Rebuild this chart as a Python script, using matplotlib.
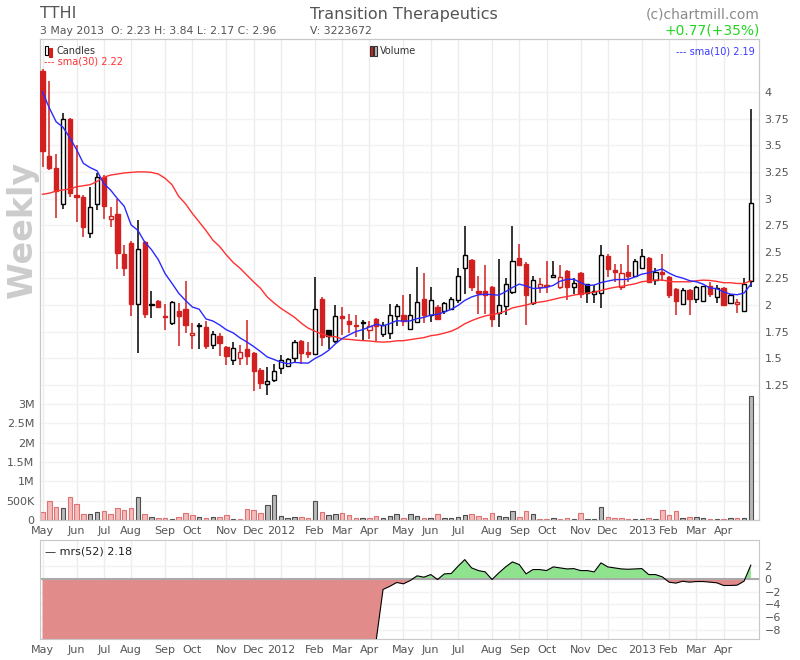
import numpy as np
import pandas as pd
import matplotlib
matplotlib.use('Agg')
import matplotlib.pyplot as plt
from matplotlib.patches import Rectangle

# ---------------- data (weekly, week starting Monday) ----------------
week_start = '2011-05-02'
opens = [4.20, 3.40, 3.29, 2.95, 3.75, 3.03, 3.01, 2.68, 2.95, 3.20,
         2.81, 2.85, 2.48, 2.58, 2.01, 2.59, 2.00, 2.04, 1.90, 1.83,
         1.94, 1.96, 1.72, 1.81, 1.79, 1.63, 1.71, 1.61, 1.48, 1.50,
         1.59, 1.55, 1.39, 1.26, 1.30, 1.41, 1.43, 1.50, 1.66, 1.56,
         1.54, 2.06, 1.77, 1.66, 1.90, 1.85, 1.81, 1.84, 1.77, 1.87,
         1.73, 1.74, 1.90, 1.91, 1.78, 1.84, 2.06, 1.91, 1.98, 1.94,
         1.96, 2.05, 2.35, 2.42, 2.13, 2.13, 2.17, 1.93, 1.99, 2.12,
         2.44, 2.39, 2.02, 2.17, 2.19, 2.26, 2.17, 2.32, 2.17, 2.30,
         2.20, 2.10, 2.11, 2.46, 2.33, 2.17, 2.31, 2.27, 2.35, 2.44,
         2.24, 2.31, 2.26, 2.15, 2.01, 2.14, 2.06, 2.04, 2.18, 2.08,
         2.16, 2.02, 2.01, 1.94, 2.23]
highs = [4.22, 4.10, 3.42, 3.80, 3.76, 3.50, 3.03, 3.11, 3.24, 3.22,
         2.92, 3.00, 2.56, 2.60, 2.80, 2.60, 2.13, 2.05, 2.01, 2.04,
         2.02, 2.23, 1.83, 1.83, 1.85, 1.76, 1.74, 1.62, 1.65, 1.63,
         1.86, 1.56, 1.41, 1.42, 1.45, 1.53, 1.50, 1.67, 1.67, 1.65,
         2.26, 2.08, 1.77, 2.00, 1.98, 1.92, 1.91, 1.86, 1.85, 1.88,
         1.84, 2.01, 2.01, 2.09, 2.10, 2.36, 2.30, 2.17, 2.00, 2.03,
         2.08, 2.35, 2.74, 2.43, 2.27, 2.38, 2.18, 2.43, 2.25, 2.74,
         2.57, 2.40, 2.27, 2.25, 2.41, 2.41, 2.38, 2.33, 2.25, 2.31,
         2.20, 2.19, 2.56, 2.48, 2.39, 2.39, 2.56, 2.43, 2.53, 2.45,
         2.35, 2.48, 2.27, 2.16, 2.16, 2.15, 2.18, 2.18, 2.22, 2.19,
         2.17, 2.10, 2.06, 2.25, 3.84]
lows = [3.30, 3.27, 2.82, 2.90, 3.01, 2.78, 2.64, 2.63, 2.89, 2.81,
        2.73, 2.34, 2.27, 1.90, 1.55, 1.88, 1.88, 1.97, 1.77, 1.81,
        1.62, 1.74, 1.59, 1.59, 1.59, 1.59, 1.52, 1.44, 1.44, 1.44,
        1.44, 1.19, 1.21, 1.16, 1.28, 1.35, 1.42, 1.47, 1.45, 1.50,
        1.53, 1.62, 1.59, 1.64, 1.72, 1.74, 1.70, 1.67, 1.68, 1.66,
        1.70, 1.68, 1.80, 1.80, 1.77, 1.83, 1.83, 1.84, 1.86, 1.92,
        1.95, 2.02, 2.10, 2.13, 1.92, 1.92, 1.79, 1.79, 1.91, 2.10,
        2.37, 1.81, 2.00, 2.11, 2.11, 2.25, 2.15, 2.05, 2.10, 2.07,
        2.02, 2.02, 1.97, 2.26, 2.22, 2.14, 2.22, 2.26, 2.34, 2.21,
        2.19, 2.23, 2.07, 1.91, 2.00, 1.91, 2.02, 2.03, 2.08, 2.02,
        2.00, 2.01, 1.93, 1.94, 2.17]
closes = [3.45, 3.29, 3.07, 3.75, 3.05, 3.01, 2.73, 2.92, 3.20, 2.93,
          2.84, 2.49, 2.35, 2.01, 2.53, 1.92, 2.01, 1.98, 1.89, 2.03,
          1.90, 1.81, 1.74, 1.80, 1.62, 1.73, 1.64, 1.52, 1.60, 1.56,
          1.52, 1.38, 1.27, 1.29, 1.38, 1.48, 1.49, 1.65, 1.55, 1.54,
          1.96, 1.70, 1.71, 1.90, 1.88, 1.82, 1.80, 1.83, 1.80, 1.80,
          1.81, 1.91, 1.99, 1.85, 1.91, 2.03, 1.91, 2.05, 1.87, 2.02,
          2.06, 2.27, 2.47, 2.17, 2.11, 2.09, 1.87, 2.00, 2.20, 2.41,
          2.38, 2.09, 2.24, 2.20, 2.18, 2.28, 2.26, 2.17, 2.21, 2.10,
          2.11, 2.13, 2.47, 2.34, 2.31, 2.30, 2.27, 2.41, 2.46, 2.22,
          2.31, 2.29, 2.09, 2.04, 2.14, 2.06, 2.17, 2.18, 2.10, 2.16,
          2.00, 2.09, 2.03, 2.20, 2.96]
volumes_m = [0.22, 0.50, 0.34, 0.31, 0.60, 0.41, 0.155, 0.155, 0.21, 0.24,
             0.155, 0.32, 0.27, 0.32, 0.59, 0.155, 0.086, 0.06, 0.06, 0.017,
             0.086, 0.18, 0.14, 0.086, 0.06, 0.086, 0.086, 0.14, 0.035, 0.035,
             0.28, 0.26, 0.19, 0.39, 0.65, 0.11, 0.06, 0.086, 0.086, 0.06,
             0.49, 0.21, 0.13, 0.155, 0.18, 0.13, 0.06, 0.06, 0.06, 0.11,
             0.06, 0.11, 0.155, 0.06, 0.155, 0.11, 0.06, 0.06, 0.155, 0.06,
             0.06, 0.086, 0.13, 0.155, 0.11, 0.06, 0.18, 0.11, 0.086, 0.23,
             0.086, 0.23, 0.155, 0.035, 0.035, 0.06, 0.017, 0.06, 0.017, 0.18,
             0.035, 0.035, 0.34, 0.086, 0.06, 0.06, 0.035, 0.035, 0.035, 0.06,
             0.035, 0.27, 0.14, 0.24, 0.06, 0.086, 0.086, 0.06, 0.035, 0.035,
             0.035, 0.06, 0.06, 0.06, 3.223672]
sma10_head = [4.00, 3.85, 3.72, 3.67, 3.57, 3.46, 3.33, 3.29, 3.26]
sma30_head = [3.04, 3.05, 3.07, 3.08, 3.09, 3.11, 3.12, 3.13, 3.16, 3.20,
              3.22, 3.23, 3.24, 3.245, 3.25, 3.25, 3.245, 3.23, 3.19, 3.13,
              3.02, 2.95, 2.86, 2.78, 2.70, 2.61, 2.55, 2.47, 2.40]
mrs = [-9.6, -9.6, -9.6, -9.6, -9.6, -9.6, -9.6, -9.6, -9.6, -9.6,
       -9.6, -9.6, -9.6, -9.6, -9.6, -9.6, -9.6, -9.6, -9.6, -9.6,
       -9.6, -9.6, -9.6, -9.6, -9.6, -9.6, -9.6, -9.6, -9.6, -9.6,
       -9.6, -9.6, -9.6, -9.6, -9.6, -9.6, -9.6, -9.6, -9.6, -9.6,
       -9.6, -9.6, -9.6, -9.6, -9.6, -9.6, -9.6, -9.6, -9.6, -9.6,
       -1.65, -1.15, -0.55, -0.76, -0.24, 0.50, 0.29, 0.70, -0.08, 0.81,
       0.86, 2.00, 3.06, 1.75, 1.33, 1.12, -0.08, 0.97, 1.91, 2.70,
       2.27, 0.81, 1.49, 1.49, 1.33, 1.91, 1.75, 1.59, 1.64, 1.33,
       1.33, 1.12, 2.54, 1.91, 1.75, 1.59, 1.54, 1.59, 1.64, 0.70,
       0.70, 0.34, -0.50, -0.65, -0.35, -0.50, -0.40, -0.40, -0.50, -0.60,
       -1.02, -1.02, -0.97, -0.35, 2.18]
month_labels = ['May', 'Jun', 'Jul', 'Aug', 'Sep', 'Oct', 'Nov', 'Dec', '2012',
                'Feb', 'Mar', 'Apr', 'May', 'Jun', 'Jul', 'Aug', 'Sep', 'Oct',
                'Nov', 'Dec', '2013', 'Feb', 'Mar', 'Apr']
price_ticks = [1.25, 1.5, 1.75, 2, 2.25, 2.5, 2.75, 3, 3.25, 3.5, 3.75, 4]
price_tick_labels = ['1.25', '1.5', '1.75', '2', '2.25', '2.5', '2.75', '3',
                     '3.25', '3.5', '3.75', '4']
vol_ticks_m = [0, 0.5, 1, 1.5, 2, 2.5, 3]
vol_tick_labels = ['0', '500K', '1M', '1.5M', '2M', '2.5M', '3M']
mrs_ticks = [2, 0, -2, -4, -6, -8]

# ---------------- derived series ----------------
o = np.array(opens); h = np.array(highs); l = np.array(lows); c = np.array(closes)
n = len(c)
x = np.arange(n)
dates = pd.date_range(week_start, periods=n, freq='W-MON')
cs = pd.Series(c)
sma10 = cs.rolling(10).mean().to_numpy()
sma10[:len(sma10_head)] = sma10_head
sma30 = cs.rolling(30).mean().to_numpy()
sma30[:len(sma30_head)] = sma30_head

month_pos = [i for i in range(n) if i == 0 or dates[i].month != dates[i - 1].month]

RED = '#d21f1f'
BLACK = '#000000'
GRID = '#ececec'
SPINE = '#c8c8c8'
TXT = '#555555'

prev = np.r_[np.inf, c[:-1]]
up = c > prev
ccol = np.where(up, BLACK, RED)
filled = c < o

W, H = 800, 660
fig = plt.figure(figsize=(8, 6.6), dpi=100)
fig.patch.set_facecolor('white')

def fx(px):
    return px / W

def fy(py):
    return 1 - py / H

# main axes (volume on left scale)
L, R = 40, 759
axv = fig.add_axes([fx(L), fy(520), fx(R) - fx(L), fy(39) - fy(520)])
axp = axv.twinx()

xlim = (-0.37, 105.2)
axv.set_xlim(*xlim)
axv.set_ylim(0, 12.46)
axp.set_ylim(-0.017, 4.497)

# grid
for mp in month_pos:
    axv.axvline(mp, color=GRID, lw=1, zorder=0)
for t in vol_ticks_m:
    axv.axhline(t, color='#f2f2f2', lw=1, zorder=0)
for t in price_ticks:
    axv.axhline((t + 0.017) / (4.497 + 0.017) * 12.46, color='#f2f2f2', lw=1, zorder=0)

# volume bars
vface = np.where(up, '#b9b9b9', '#f3bcbc')
vedge = np.where(up, '#4d4d4d', '#df7272')
axv.bar(x, volumes_m, 0.66, color=vface, edgecolor=vedge, linewidth=0.8, zorder=2)

# candles
axp.vlines(x, l, h, colors=ccol, lw=1.1, zorder=3)
bottoms = np.minimum(o, c)
heights = np.maximum(np.abs(c - o), 0.012)
faces = [cc if f else 'white' for cc, f in zip(ccol, filled)]
axp.bar(x, heights, 0.62, bottom=bottoms, color=faces, edgecolor=ccol,
        linewidth=1.0, zorder=4)
axp.plot(x, sma30, color='#ff3030', lw=1.0, zorder=5)
axp.plot(x, sma10, color='#2a2aff', lw=1.0, zorder=5)

axv.set_xticks(month_pos)
axv.set_xticklabels(month_labels)
axv.set_yticks(vol_ticks_m)
axv.set_yticklabels(vol_tick_labels)
axp.set_yticks(price_ticks)
axp.set_yticklabels(price_tick_labels)
for a in (axv, axp):
    a.tick_params(length=0, labelsize=8, colors=TXT, pad=4)
    for s in a.spines.values():
        s.set_color(SPINE)

# MRS panel
axm = fig.add_axes([fx(L), fy(639), fx(R) - fx(L), fy(540) - fy(639)])
axm.set_xlim(*xlim)
axm.set_ylim(-9.46, 6.15)
mv = np.array(mrs)
for mp in month_pos:
    axm.axvline(mp, color=GRID, lw=1, zorder=0)
for t in mrs_ticks:
    axm.axhline(t, color='#f2f2f2', lw=1, zorder=0)
axm.fill_between(x, mv, 0, where=mv >= 0, interpolate=True, color='#8fe38f', lw=0, zorder=1)
axm.fill_between(x, mv, 0, where=mv <= 0, interpolate=True, color='#e28b8b', lw=0, zorder=1)
axm.axhline(0, color='#aaaaaa', lw=1.5, zorder=2)
axm.plot(x, mv, color='black', lw=0.8, zorder=3)
axm.yaxis.tick_right()
axm.set_yticks(mrs_ticks)
axm.set_yticklabels(['2', '0', '\u22122', '\u22124', '\u22126', '\u22128'])
axm.set_xticks(month_pos)
axm.set_xticklabels(month_labels)
axm.tick_params(length=0, labelsize=8, colors=TXT, pad=4)
for s in axm.spines.values():
    s.set_color(SPINE)

# header texts
fig.text(fx(40), fy(14), 'TTHI', fontsize=11.5, color=TXT, va='center')
fig.text(fx(310), fy(14), 'Transition Therapeutics', fontsize=11.5, color=TXT, va='center')
fig.text(fx(760), fy(14), '(c)chartmill.com', fontsize=10, color='#8a8a8a',
         va='center', ha='right')
fig.text(fx(40), fy(31),
         f'3 May 2013  O: {opens[-1]:.2f} H: {highs[-1]:.2f} L: {lows[-1]:.2f} C: {closes[-1]:.2f}',
         fontsize=7.8, color=TXT, va='center')
fig.text(fx(310), fy(31), f'V: {int(round(volumes_m[-1] * 1e6))}', fontsize=7.8,
         color=TXT, va='center')
fig.text(fx(760), fy(31), '+0.77(+35%)', fontsize=10, color='#22d622',
         va='center', ha='right')

# legend items
fig.patches.append(Rectangle((fx(45), fy(55)), fx(3), fy(46) - fy(55), transform=fig.transFigure,
                             facecolor='white', edgecolor='black', lw=0.8))
fig.patches.append(Rectangle((fx(49), fy(57)), fx(3), fy(48) - fy(57), transform=fig.transFigure,
                             facecolor=RED, edgecolor=RED, lw=0.8))
fig.text(fx(57), fy(51), 'Candles', fontsize=7, color='#333333', va='center')
fig.text(fx(44), fy(62), '--- sma(30) 2.22', fontsize=7, color='#ff3030', va='center')
fig.patches.append(Rectangle((fx(370), fy(56)), fx(3), fy(46) - fy(56), transform=fig.transFigure,
                             facecolor=RED, edgecolor='#333333', lw=0.8))
fig.patches.append(Rectangle((fx(374), fy(56)), fx(3), fy(46) - fy(56), transform=fig.transFigure,
                             facecolor='#b9b9b9', edgecolor='#333333', lw=0.8))
fig.text(fx(380), fy(51), 'Volume', fontsize=7, color='#333333', va='center')
fig.text(fx(755), fy(51), '--- sma(10) 2.19', fontsize=7, color='#3a3aff', va='center', ha='right')
fig.text(fx(45), fy(551), '\u2014 mrs(52) 2.18', fontsize=8, color='#222222', va='center')

fig.text(fx(22), fy(230), 'Weekly', rotation=90, fontsize=24, fontweight='bold',
         color='#cccccc', ha='center', va='center')

fig.savefig('out.png', dpi=100, facecolor='white')
